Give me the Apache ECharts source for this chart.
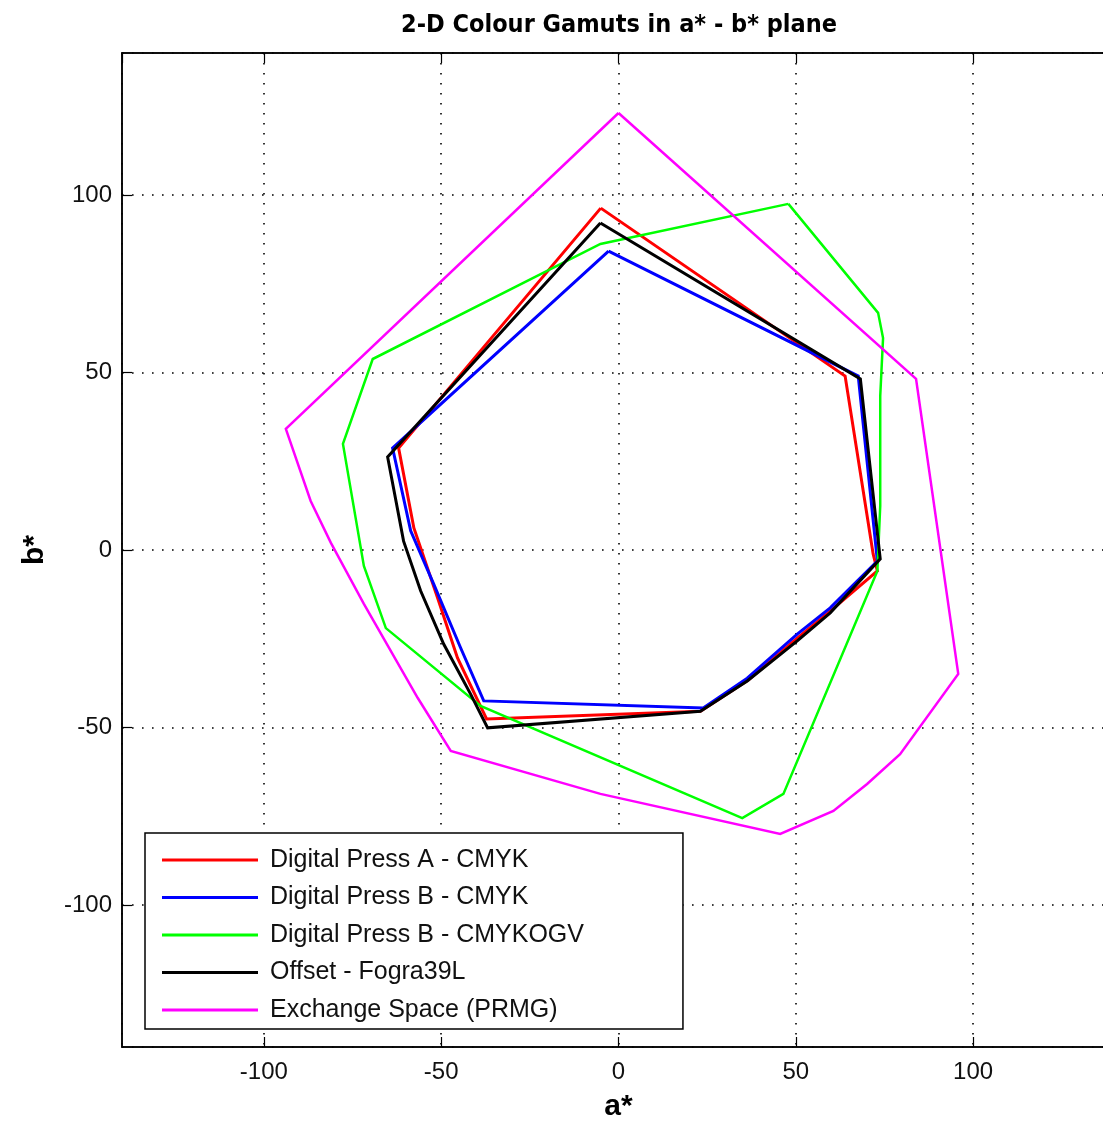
<!DOCTYPE html>
<html>
<head>
<meta charset="utf-8">
<script src="https://cdn.jsdelivr.net/npm/echarts@6/dist/echarts.min.js"></script>
<style>
html,body{margin:0;padding:0;background:#fff;overflow:hidden;}
#chart{width:1103px;height:1123px;}
</style>
</head>
<body>
<div id="chart"></div>
<script>
// ---- Data (a*, b*) ----
const seriesNames = [
  'Digital Press A - CMYK',
  'Digital Press B - CMYK',
  'Digital Press B - CMYKOGV',
  'Offset - Fogra39L',
  'Exchange Space (PRMG)'
];
const seriesColors = ['#ff0000', '#0000ff', '#00ff00', '#000000', '#ff00ff'];

const pressA_a = [-5.0, 63.9, 71.8, 73.0, 59.7, 50.4, 36.6, 23.1, -37.2, -45.4, -51.0, -57.7, -62.0];
const pressA_b = [96.3, 49.0, -1.1, -5.9, -17.2, -24.8, -36.6, -45.4, -47.6, -30.4, -13.5, 6.2, 28.7];

const pressB_a = [-2.8, 67.6, 73.0, 59.7, 50.4, 36.3, 23.9, -38.0, -44.5, -52.1, -58.6, -63.7];
const pressB_b = [84.2, 49.0, -3.1, -16.3, -23.7, -36.1, -44.5, -42.5, -27.6, -9.6, 5.4, 28.7];

const pressBogv_a = [47.9, 73.2, 74.6, 73.8, 73.8, 73.0, 46.5, 34.9, -38.9, -65.6, -71.8, -77.7, -69.3, -5.1];
const pressBogv_b = [97.5, 66.8, 59.7, 43.4, 12.4, -5.9, -68.7, -75.5, -43.9, -22.0, -4.5, 29.9, 53.8, 86.2];

const offset_a = [-5.1, 68.2, 73.8, 59.7, 50.4, 36.3, 23.1, -36.9, -41.7, -49.3, -55.8, -60.6, -65.1];
const offset_b = [92.1, 48.2, -2.5, -17.7, -25.6, -36.9, -45.4, -50.1, -40.6, -26.5, -11.5, 2.5, 26.2];

const prmg_a = [0.0, 83.9, 95.8, 79.4, 70.1, 60.6, 45.6, -5.1, -47.3, -56.6, -71.8, -81.1, -86.8, -93.8];
const prmg_b = [123.1, 48.2, -34.9, -57.5, -65.9, -73.5, -80.0, -68.7, -56.6, -41.7, -15.2, 2.0, 13.8, 34.1];

const xTickLabels = [-100, -50, 0, 50, 100];
const yTickLabels = [-100, -50, 0, 50, 100];

// ---- Build closed polygons ----
function closed(as, bs) {
  const pts = as.map((a, i) => [a, bs[i]]);
  pts.push([as[0], bs[0]]);
  return pts;
}
const allData = [
  closed(pressA_a, pressA_b),
  closed(pressB_a, pressB_b),
  closed(pressBogv_a, pressBogv_b),
  closed(offset_a, offset_b),
  closed(prmg_a, prmg_b)
];
const widths = [3, 3, 2.5, 3, 2.5];

const chart = echarts.init(document.getElementById('chart'), null, {renderer: 'canvas'});
const labelFont = 'Liberation Sans, Arial, sans-serif';

const axisCommon = {
  min: -140, max: 140,
  splitNumber: 6, minInterval: 50, maxInterval: 50,
  axisLine: {show: true, onZero: false, lineStyle: {color: '#000', width: 1.5}},
  axisTick: {show: true, inside: true, length: 10, lineStyle: {color: '#000', width: 1.2}},
  splitLine: {show: true, lineStyle: {color: '#000', width: 1.6, type: [1.6, 8.4]}},
  axisLabel: {
    showMinLabel: false, showMaxLabel: false,
    color: '#111', fontFamily: labelFont, fontSize: 24, margin: 13,
    formatter: v => (xTickLabels.indexOf(v) >= 0 ? String(v) : '')
  }
};

chart.setOption({
  animation: false,
  backgroundColor: '#fff',
  title: {
    text: '2-D Colour Gamuts in a* - b* plane',
    left: 614, top: 8, textAlign: 'center',
    textStyle: {fontFamily: 'Liberation Sans Narrow, DejaVu Sans Condensed, Arial, sans-serif',
      fontWeight: 'bold', fontSize: 25, color: '#000'}
  },
  grid: {left: 122, top: 53, width: 993, height: 994, containLabel: false,
    outerBoundsMode: 'none',
    show: true, borderColor: '#000', borderWidth: 1.5, backgroundColor: '#fff'},
  legend: {
    orient: 'vertical', left: 145, top: 833,
    data: seriesNames,
    icon: 'rect', itemWidth: 96, itemHeight: 3, itemGap: 12.5,
    padding: [14.5, 99, 6.5, 17],
    backgroundColor: '#fff', borderColor: '#000', borderWidth: 1.5,
    textStyle: {fontFamily: labelFont, fontSize: 25, lineHeight: 25, color: '#111', padding: [0, 0, 0, 7]},
    selectedMode: false
  },
  xAxis: [
    Object.assign({}, axisCommon, {
      type: 'value', position: 'bottom',
      name: 'a*', nameLocation: 'middle', nameGap: 45,
      nameTextStyle: {fontFamily: labelFont, fontWeight: 'bold', fontSize: 30, color: '#000'}
    }),
    Object.assign({}, axisCommon, {
      type: 'value', position: 'top',
      splitLine: {show: false}, axisLabel: {show: false}
    })
  ],
  yAxis: [
    Object.assign({}, axisCommon, {
      type: 'value', position: 'left',
      name: 'b*', nameLocation: 'middle', nameGap: 72, nameRotate: 90,
      nameTextStyle: {fontFamily: labelFont, fontWeight: 'bold', fontSize: 30, color: '#000'},
      axisLabel: Object.assign({}, axisCommon.axisLabel, {
        margin: 10,
        formatter: v => (yTickLabels.indexOf(v) >= 0 ? String(v) : '')
      })
    })
  ],
  series: allData.map((d, i) => ({
    name: seriesNames[i],
    type: 'line',
    xAxisIndex: 0, yAxisIndex: 0,
    data: d,
    showSymbol: false, symbol: 'none',
    clip: true,
    color: seriesColors[i],
    lineStyle: {color: seriesColors[i], width: widths[i], join: 'miter'},
    z: 2 + i
  }))
});
</script>
</body>
</html>
